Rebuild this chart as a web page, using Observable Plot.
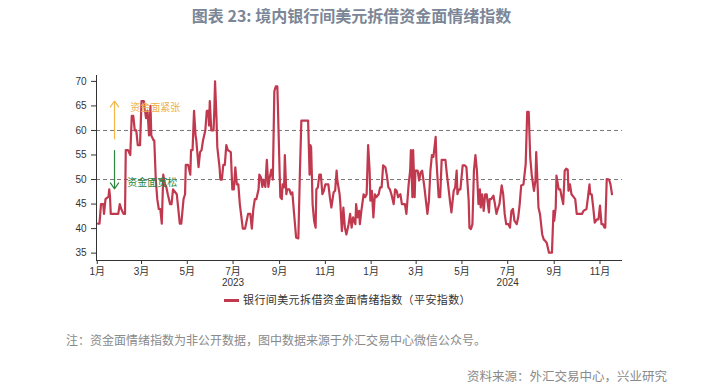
<!DOCTYPE html>
<html><head><meta charset="utf-8">
<script src="https://cdn.jsdelivr.net/npm/d3@7"></script>
<script src="https://cdn.jsdelivr.net/npm/@observablehq/plot@0.6"></script>
<style>
body{margin:0;background:#fff;font-family:"Liberation Sans","Noto Sans CJK SC",sans-serif;}
#wrap{position:relative;width:703px;height:388px;overflow:hidden;background:#fff;}
#title{position:absolute;top:3px;left:0;width:703px;text-align:center;font-size:16px;line-height:24px;font-weight:bold;color:#7b8696;font-family:"Noto Sans CJK SC",sans-serif;}
#chart{position:absolute;top:60px;left:0;}
#legend{position:absolute;top:290px;left:224px;font-size:11px;line-height:18px;color:#333;font-family:"Noto Sans CJK SC",sans-serif;letter-spacing:0.4px;white-space:nowrap;}
#legend .sw{display:inline-block;width:15px;height:3px;background:#c0394f;vertical-align:middle;margin-right:4px;position:relative;top:-1px;}
#note{position:absolute;top:331px;left:66px;font-size:12px;line-height:18px;color:#8a8a8a;font-family:"Noto Sans CJK SC",sans-serif;white-space:nowrap;}
#source{position:absolute;top:367px;right:36px;font-size:12.5px;line-height:18px;color:#8a8a8a;font-family:"Noto Sans CJK SC",sans-serif;white-space:nowrap;}
</style></head>
<body>
<div id="wrap">
  <div id="title">图表 23: 境内银行间美元拆借资金面情绪指数</div>
  <div id="chart"></div>
  <div id="legend"><span class="sw"></span>银行间美元拆借资金面情绪指数（平安指数）</div>
  <div id="note">注：资金面情绪指数为非公开数据，图中数据来源于外汇交易中心微信公众号。</div>
  <div id="source">资料来源：外汇交易中心，兴业研究</div>
</div>
<script>
const dates = [
"2023-01-02","2023-01-04","2023-01-06","2023-01-09","2023-01-10","2023-01-12","2023-01-16","2023-01-17","2023-01-18","2023-01-19",
"2023-01-29","2023-01-31","2023-02-02","2023-02-05","2023-02-07","2023-02-08","2023-02-11","2023-02-14","2023-02-16","2023-02-18",
"2023-02-20","2023-02-22","2023-02-24","2023-02-27","2023-03-01","2023-03-04","2023-03-07","2023-03-09","2023-03-11","2023-03-13",
"2023-03-14","2023-03-17","2023-03-18","2023-03-20","2023-03-22","2023-03-24","2023-03-26","2023-03-28","2023-03-30","2023-04-01",
"2023-04-03","2023-04-05","2023-04-08","2023-04-10","2023-04-12","2023-04-17","2023-04-19","2023-04-21","2023-04-23","2023-04-26",
"2023-04-28","2023-04-29","2023-05-02","2023-05-05","2023-05-06","2023-05-08","2023-05-10","2023-05-12","2023-05-13","2023-05-16",
"2023-05-18","2023-05-20","2023-05-22","2023-05-25","2023-05-27","2023-05-29","2023-05-30","2023-05-31","2023-06-02","2023-06-05",
"2023-06-06","2023-06-07","2023-06-09","2023-06-10","2023-06-13","2023-06-14","2023-06-16","2023-06-18","2023-06-20","2023-06-22",
"2023-06-24","2023-06-28","2023-06-30","2023-07-02","2023-07-04","2023-07-06","2023-07-08","2023-07-10","2023-07-14","2023-07-17",
"2023-07-19","2023-07-21","2023-07-24","2023-07-26","2023-07-28","2023-07-30","2023-08-01","2023-08-04","2023-08-05","2023-08-07",
"2023-08-09","2023-08-10","2023-08-13","2023-08-15","2023-08-17","2023-08-19","2023-08-21","2023-08-23","2023-08-25","2023-08-27",
"2023-08-29","2023-08-30","2023-09-01","2023-09-02","2023-09-04","2023-09-05","2023-09-07","2023-09-08","2023-09-10","2023-09-11",
"2023-09-14","2023-09-16","2023-09-18","2023-09-20","2023-09-23","2023-09-26","2023-09-28","2023-09-30","2023-10-09","2023-10-11",
"2023-10-12","2023-10-13","2023-10-14","2023-10-15","2023-10-17","2023-10-19","2023-10-20","2023-10-22","2023-10-24","2023-10-26",
"2023-10-28","2023-10-30","2023-11-01","2023-11-05","2023-11-07","2023-11-09","2023-11-12","2023-11-14","2023-11-16","2023-11-17",
"2023-11-20","2023-11-21","2023-11-23","2023-11-25","2023-11-27","2023-11-29","2023-12-02","2023-12-04","2023-12-06","2023-12-08",
"2023-12-11","2023-12-12","2023-12-14","2023-12-16","2023-12-17","2023-12-19","2023-12-22","2023-12-24","2023-12-26","2023-12-28",
"2023-12-30","2023-12-31","2024-01-02","2024-01-04","2024-01-06","2024-01-08","2024-01-11","2024-01-13","2024-01-15","2024-01-17",
"2024-01-20","2024-01-22","2024-01-24","2024-01-26","2024-01-28","2024-01-31","2024-02-02","2024-02-04","2024-02-06","2024-02-09",
"2024-02-11","2024-02-15","2024-02-17","2024-02-20","2024-02-22","2024-02-23","2024-02-25","2024-02-26","2024-02-28","2024-02-29",
"2024-03-03","2024-03-05","2024-03-07","2024-03-09","2024-03-12","2024-03-14","2024-03-16","2024-03-18","2024-03-20","2024-03-22",
"2024-03-24","2024-03-27","2024-03-28","2024-03-31","2024-04-02","2024-04-04","2024-04-09","2024-04-11","2024-04-13","2024-04-15",
"2024-04-17","2024-04-20","2024-04-22","2024-04-24","2024-04-25","2024-04-27","2024-04-29","2024-05-02","2024-05-05","2024-05-07",
"2024-05-10","2024-05-11","2024-05-13","2024-05-15","2024-05-17","2024-05-19","2024-05-21","2024-05-23","2024-05-25","2024-05-26",
"2024-05-28","2024-05-30","2024-06-01","2024-06-03","2024-06-06","2024-06-07","2024-06-09","2024-06-12","2024-06-14","2024-06-16",
"2024-06-18","2024-06-20","2024-06-23","2024-06-25","2024-06-27","2024-06-29","2024-07-02","2024-07-04","2024-07-06","2024-07-08",
"2024-07-10","2024-07-13","2024-07-15","2024-07-17","2024-07-19","2024-07-22","2024-07-25","2024-07-27","2024-07-29","2024-07-31",
"2024-08-02","2024-08-05","2024-08-07","2024-08-08","2024-08-10","2024-08-11","2024-08-13","2024-08-16","2024-08-18","2024-08-20",
"2024-08-22","2024-08-25","2024-08-29","2024-08-31","2024-09-01","2024-09-03","2024-09-04","2024-09-07","2024-09-09","2024-09-11",
"2024-09-13","2024-09-15","2024-09-17","2024-09-19","2024-09-20","2024-09-22","2024-09-24","2024-09-27","2024-09-29","2024-10-01",
"2024-10-08","2024-10-10","2024-10-14","2024-10-16","2024-10-18","2024-10-19","2024-10-21","2024-10-23","2024-10-25","2024-10-28",
"2024-10-30","2024-11-01","2024-11-03","2024-11-05","2024-11-07","2024-11-08","2024-11-10","2024-11-13","2024-11-15","2024-11-17"
];
const values = [
41,41,45,45,43,46,46.5,48,46.5,43,
43,45,44,43,43,56,56,55,63,63,
60,60,57,57,66,66,62.5,64,59,65,
59,58,58,50,46,44,44,41,51,49,
48.5,47,45,45,48,47,44,41,41,46,
47,53,53,51,56,56,64,59,58,52.5,
55.6,56,58,60,64,64,61,66,60,60,
64,70,62,56.6,52.5,50,50,53,53,57,
56,55.6,48,48,52.5,49,49,45,40,40,
41.5,43,43,40,44,46,46,48,51,50.5,
48.5,50,48.5,54,48.5,50.5,52,50,68,69,
69,63.5,51.8,46.4,46,49,48.4,55,47,48,
48,47,47.4,43.6,38.2,38,51,62,62,51,
57,56.6,51,45,41.6,40.2,48,48.4,51,51,
47,47.7,49,49,46.4,44.3,47.4,47.7,51.8,49.8,
47,45,39.5,44.3,40.2,38.8,40.9,43,40.2,42.3,
40.9,45,42.3,43.6,40.9,43.6,47,46.4,47,57,
51.8,45.7,47.7,42.3,47,46.4,47,48.4,48.4,52.9,
52.5,50.8,48.4,48,47,45,48,47.7,46.4,47,
45,45,43,49,51.8,56,46.4,56,46.4,51.8,
51.8,49.8,51.5,51.8,48.4,45.7,43,45.7,51.8,55,
54.6,58.7,54,46.4,46.4,54,54,51,48.4,45.7,
43.3,47.7,48.4,51.8,47,48,48,52.9,52.9,52.5,
45.7,40.2,39.9,40.9,51.8,55,51.8,45,48,44.3,
47,43.6,47,47,43.3,46,46,46.7,45,43,
44.1,45,48.8,47,43,40.9,40.9,40.2,43.6,44,
41.6,40.9,42.3,45,48.8,49,53.2,63.8,63.8,54.6,
51,47.7,49.8,55.6,48.4,44.3,43,38.8,37.8,37.5,
37.1,35.1,35.1,43.6,41.6,44.3,50.8,48,48,46.4,
45,51.8,52.2,52,47.7,49,47,46.4,46,43,
43,43.6,44,46.4,49,47,47,44.3,41.2,41.9,
41.9,44.7,40.9,40.9,40.2,40.2,50.1,50,49,47
];
const seriesName = "银行间美元拆借资金面情绪指数（平安指数）";
const yTicks = [35,40,45,50,55,60,65,70];
const refLines = [50,60];
const xTicks = ["2023-01-01","2023-03-01","2023-05-01","2023-07-01","2023-09-01","2023-11-01",
                "2024-01-01","2024-03-01","2024-05-01","2024-07-01","2024-09-01","2024-11-01"];
const yearLabels = ["2023","2024"];
const yearLabelDates = ["2023-07-01","2024-07-01"];
const annotArrows = [
  {x:"2023-01-24", from:58.3, to:66.0, color:"#f2b64a"},
  {x:"2023-01-24", from:55.9, to:48.1, color:"#2e8540"}
];
const annotLabels = [
  {x:"2023-02-14", y:64.6, text:"资金面紧张", color:"#eeb04a"},
  {x:"2023-02-10", y:49.4, text:"资金面宽松", color:"#2e8540"}
];

const data = dates.map((d,i)=>({date:new Date(d), value:values[i]}));
const xDomain = [new Date("2022-12-31"), new Date("2024-12-01")];
const yDomain = [33.5, 71.2];

const chart = Plot.plot({
  width: 703,
  height: 232,
  marginTop: 15,
  marginBottom: 32,
  marginLeft: 96,
  marginRight: 81,
  style: {fontFamily: '"Liberation Sans","Noto Sans CJK SC",sans-serif', fontSize: "10px", color: "#333", background: "#fff"},
  x: {type: "utc", domain: xDomain},
  y: {domain: yDomain},
  marks: [
    Plot.ruleY(refLines, {stroke: "#666", strokeDasharray: "4,3", strokeWidth: 0.9}),
    Plot.line(data, {x: "date", y: "value", stroke: "#c0394f", strokeWidth: 2.2, strokeLinejoin: "round"}),
    Plot.arrow(annotArrows, {x1: d => new Date(d.x), y1: "from", x2: d => new Date(d.x), y2: "to", stroke: d => d.color, strokeWidth: 1.2, headLength: 9, headAngle: 70}),
    Plot.text(annotLabels, {x: d => new Date(d.x), y: "y", text: "text", fill: d => d.color, textAnchor: "start", fontSize: 10, fontFamily: '"Noto Sans CJK SC",sans-serif'}),
    Plot.ruleX([xDomain[0]], {stroke: "#333"}),
    Plot.ruleY([yDomain[0]], {stroke: "#333"}),
    Plot.axisY({ticks: yTicks, tickSize: 5, tickPadding: 5, stroke: "#333", fontSize: 10, label: null}),
    Plot.axisX({ticks: xTicks.map(d => new Date(d)), tickFormat: d => (d.getUTCMonth() + 1) + "月", tickSize: 4, tickPadding: 3, stroke: "#333", fontSize: 10, label: null}),
    Plot.text(yearLabels, {x: (d,i) => new Date(yearLabelDates[i]), text: d => d, frameAnchor: "bottom", dy: 25, fontSize: 10, fill: "#333"})
  ]
});
document.getElementById("chart").appendChild(chart);
</script>
</body></html>
